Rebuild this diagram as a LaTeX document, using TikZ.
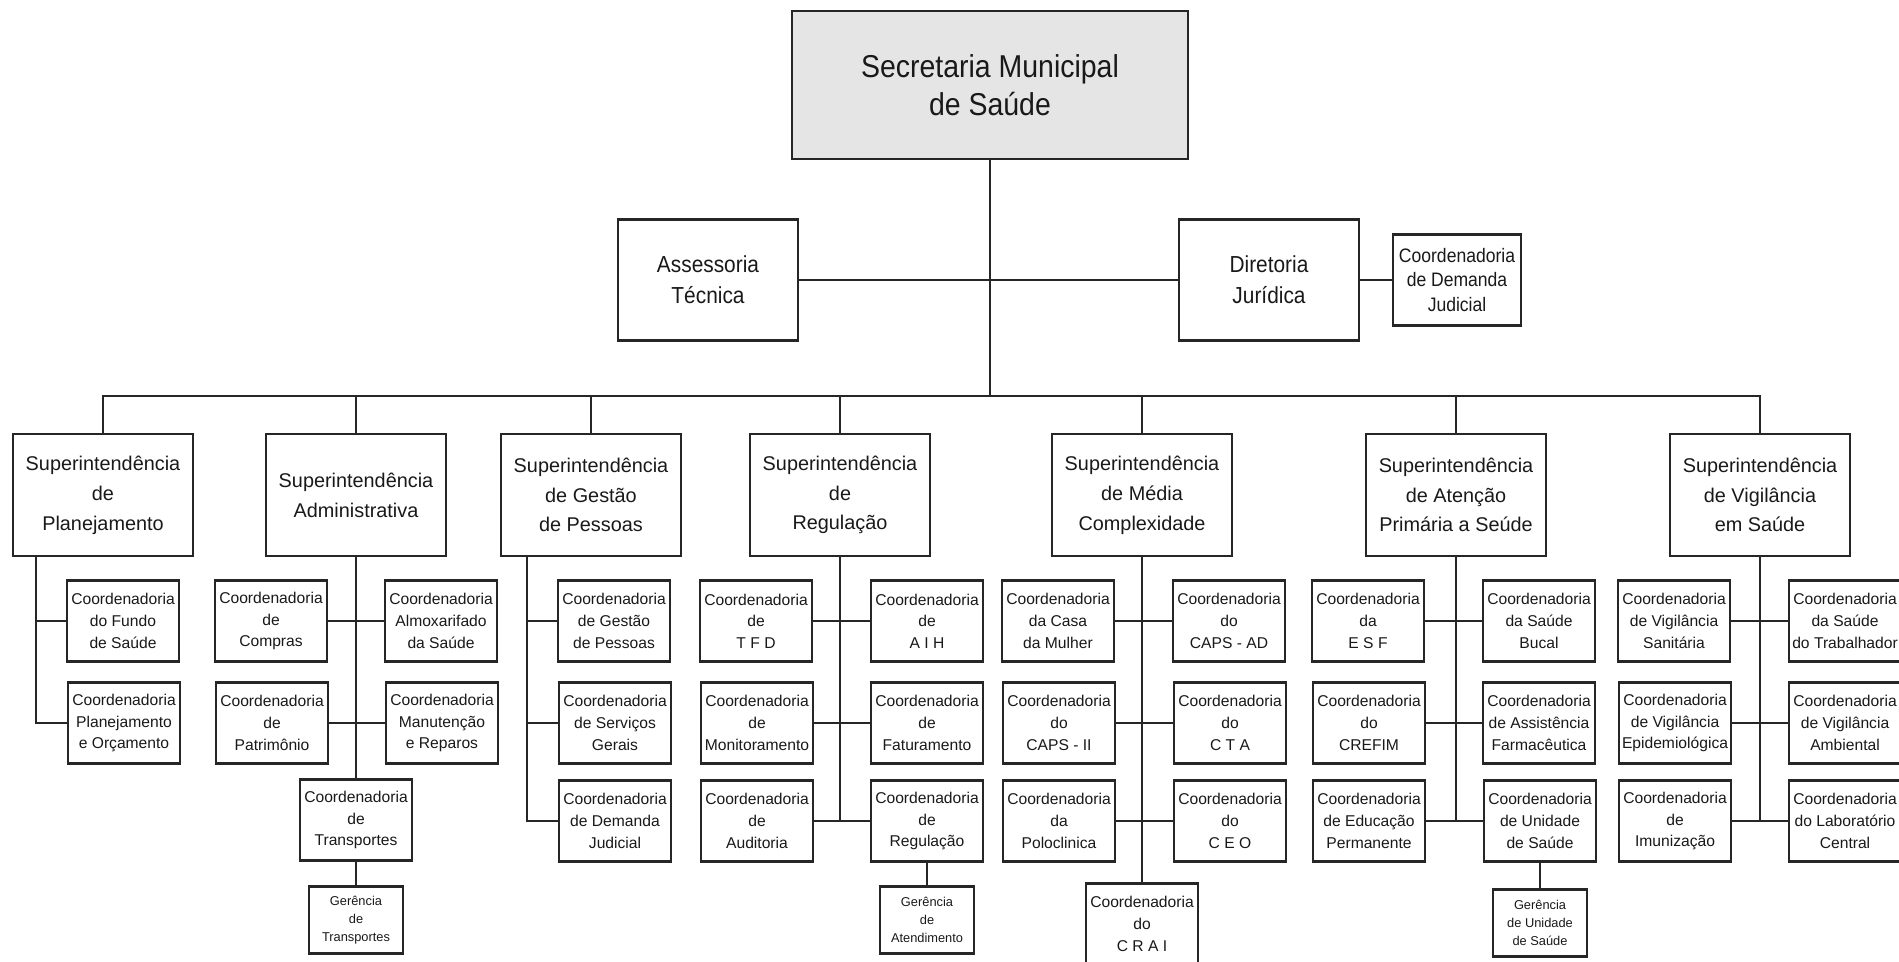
\documentclass[tikz,border=0pt]{standalone}
\usepackage{fontspec}
\setmainfont{Liberation Sans}
\newfontfamily\narrowsf[FakeStretch=0.9]{Liberation Sans}
\usepackage{tikz}
\usetikzlibrary{positioning}
\colorlet{linegray}{black!85}
\colorlet{topfill}{black!10}

\begin{document}
\begin{tikzpicture}[
  x=0.02cm, y=-0.02cm,
  box/.style = {draw=linegray, line width=1.3pt, align=center, inner sep=0pt, text=black!90},
  topbox/.style = {box, font=\narrowsf\fontsize{13.2}{17.6}\selectfont},
  sup/.style = {box, minimum width=3.6cm, minimum height=2.44cm, font=\fontsize{11.3}{17}\selectfont},
  coord/.style = {box, minimum width=2.24cm, minimum height=1.62cm, font=\fontsize{8.9}{12.3}\selectfont},
  ger/.style = {box, minimum width=1.88cm, minimum height=1.34cm, font=\fontsize{7.3}{10.2}\selectfont},
  link/.style = {draw=linegray, line width=1.3pt}
  ]
  \useasboundingbox (0,0) rectangle (1899,962);
  % Top level
  \node[topbox, fill=topfill, minimum width=7.92cm, minimum height=2.96cm,
    font=\narrowsf\fontsize{18}{21.5}\selectfont] (sec) at (990,85) {Secretaria Municipal\\de Saúde};
  \node[topbox, minimum width=3.6cm, minimum height=2.42cm] (asses) at (708,280) {Assessoria\\Técnica};
  \node[topbox, minimum width=3.6cm, minimum height=2.42cm] (diret) at (1269,280) {Diretoria\\Jurídica};
  \node[topbox, minimum width=2.56cm, minimum height=1.82cm,
    font=\narrowsf\fontsize{11.1}{14.2}\selectfont] (demjud) at (1457,280) {Coordenadoria\\de Demanda\\Judicial};
  \coordinate (bus) at (990,396);
  \draw[link] (sec.south) -- (bus);
  \draw[link] (asses.east) -- (diret.west);
  \draw[link] (diret.east) -- (demjud.west);

  % Superintendencias
  \node[sup] (splan) at (103,495) {Superintendência\\de\\Planejamento};
  \node[sup] (sadm) at (356,495) {Superintendência\\Administrativa};
  \node[sup] (sgp) at (591,495) {Superintendência\\de Gestão\\de Pessoas};
  \node[sup] (sreg) at (840,495) {Superintendência\\de\\Regulação};
  \node[sup] (smed) at (1142,495) {Superintendência\\de Média\\Complexidade};
  \node[sup] (saps) at (1456,495) {Superintendência\\de Atenção\\Primária a Seúde};
  \node[sup] (svig) at (1760,495) {Superintendência\\de Vigilância\\em Saúde};
  \draw[link] (splan.north) |- (bus);
  \draw[link] (bus) -| (svig.north);
  \foreach \s in {sadm,sgp,sreg,smed,saps}
    \draw[link] (\s.north) -- (\s.north |- bus);

  % Planejamento
  \node[coord] (cfundo) at (123,621) {Coordenadoria\\do Fundo\\de Saúde};
  \node[coord] (corc) at (124,723) {Coordenadoria\\Planejamento\\e Orçamento};
  \coordinate (pspine) at ([xshift=0.48cm]splan.south west);
  \draw[link] (pspine) |- (corc.west);
  \draw[link] (cfundo.west) -- (cfundo.west -| pspine);

  % Administrativa
  \node[coord] (ccompras) at (271,621) {Coordenadoria\\de\\Compras};
  \node[coord] (calmox) at (441,621) {Coordenadoria\\Almoxarifado\\da Saúde};
  \node[coord] (cpatrim) at (272,723) {Coordenadoria\\de\\Patrimônio};
  \node[coord] (cmanut) at (442,723) {Coordenadoria\\Manutenção\\e Reparos};
  \node[coord] (ctransp) at (356,820) {Coordenadoria\\de\\Transportes};
  \node[ger] (gtransp) at (356,920) {Gerência\\de\\Transportes};
  \draw[link] (sadm.south) -- (ctransp.north);
  \draw[link] (ctransp.south) -- (gtransp.north);
  \foreach \l/\r in {ccompras/calmox, cpatrim/cmanut}
    \draw[link] (\l.east) -- (\r.west);

  % Gestao de Pessoas
  \node[coord] (cgp) at (614,621) {Coordenadoria\\de Gestão\\de Pessoas};
  \node[coord] (cserv) at (615,723) {Coordenadoria\\de Serviços\\Gerais};
  \node[coord] (cdemanda) at (615,821) {Coordenadoria\\de Demanda\\Judicial};
  \coordinate (gspine) at ([xshift=0.54cm]sgp.south west);
  \draw[link] (gspine) |- (cdemanda.west);
  \foreach \c in {cgp,cserv}
    \draw[link] (\c.west) -- (\c.west -| gspine);

  % Regulacao
  \node[coord] (ctfd) at (756,621) {Coordenadoria\\de\\T F D};
  \node[coord] (caih) at (927,621) {Coordenadoria\\de\\A I H};
  \node[coord] (cmonit) at (757,723) {Coordenadoria\\de\\Monitoramento};
  \node[coord] (cfatur) at (927,723) {Coordenadoria\\de\\Faturamento};
  \node[coord] (caudit) at (757,821) {Coordenadoria\\de\\Auditoria};
  \node[coord] (creg) at (927,821) {Coordenadoria\\de\\Regulação};
  \node[ger] (gatend) at (927,920) {Gerência\\de\\Atendimento};
  \draw[link] (sreg.south) -- (sreg.south |- caudit.east);
  \draw[link] (creg.south) -- (gatend.north);
  \foreach \l/\r in {ctfd/caih, cmonit/cfatur, caudit/creg}
    \draw[link] (\l.east) -- (\r.west);

  % Media Complexidade
  \node[coord] (ccasa) at (1058,621) {Coordenadoria\\da Casa\\da Mulher};
  \node[coord] (ccapsad) at (1229,621) {Coordenadoria\\do\\CAPS - AD};
  \node[coord] (ccapsii) at (1059,723) {Coordenadoria\\do\\CAPS - II};
  \node[coord] (ccta) at (1230,723) {Coordenadoria\\do\\C T A};
  \node[coord] (cpolo) at (1059,821) {Coordenadoria\\da\\Poloclinica};
  \node[coord] (cceo) at (1230,821) {Coordenadoria\\do\\C E O};
  \node[coord] (ccrai) at (1142,924) {Coordenadoria\\do\\C R A I};
  \draw[link] (smed.south) -- (ccrai.north);
  \foreach \l/\r in {ccasa/ccapsad, ccapsii/ccta, cpolo/cceo}
    \draw[link] (\l.east) -- (\r.west);

  % Atencao Primaria
  \node[coord] (cesf) at (1368,621) {Coordenadoria\\da\\E S F};
  \node[coord] (cbucal) at (1539,621) {Coordenadoria\\da Saúde\\Bucal};
  \node[coord] (ccrefim) at (1369,723) {Coordenadoria\\do\\CREFIM};
  \node[coord] (cfarma) at (1539,723) {Coordenadoria\\de Assistência\\Farmacêutica};
  \node[coord] (ceduc) at (1369,821) {Coordenadoria\\de Educação\\Permanente};
  \node[coord] (cunid) at (1540,821) {Coordenadoria\\de Unidade\\de Saúde};
  \node[ger] (gunid) at (1540,923) {Gerência\\de Unidade\\de Saúde};
  \draw[link] (saps.south) -- (saps.south |- ceduc.east);
  \draw[link] (cunid.south) -- (gunid.north);
  \foreach \l/\r in {cesf/cbucal, ccrefim/cfarma, ceduc/cunid}
    \draw[link] (\l.east) -- (\r.west);

  % Vigilancia
  \node[coord] (csanit) at (1674,621) {Coordenadoria\\de Vigilância\\Sanitária};
  \node[coord] (ctrab) at (1845,621) {Coordenadoria\\da Saúde\\do Trabalhador};
  \node[coord] (cepid) at (1675,723) {Coordenadoria\\de Vigilância\\Epidemiológica};
  \node[coord] (camb) at (1845,723) {Coordenadoria\\de Vigilância\\Ambiental};
  \node[coord] (cimun) at (1675,821) {Coordenadoria\\de\\Imunização};
  \node[coord] (clab) at (1845,821) {Coordenadoria\\do Laboratório\\Central};
  \draw[link] (svig.south) -- (svig.south |- cimun.east);
  \foreach \l/\r in {csanit/ctrab, cepid/camb, cimun/clab}
    \draw[link] (\l.east) -- (\r.west);
\end{tikzpicture}
\end{document}
